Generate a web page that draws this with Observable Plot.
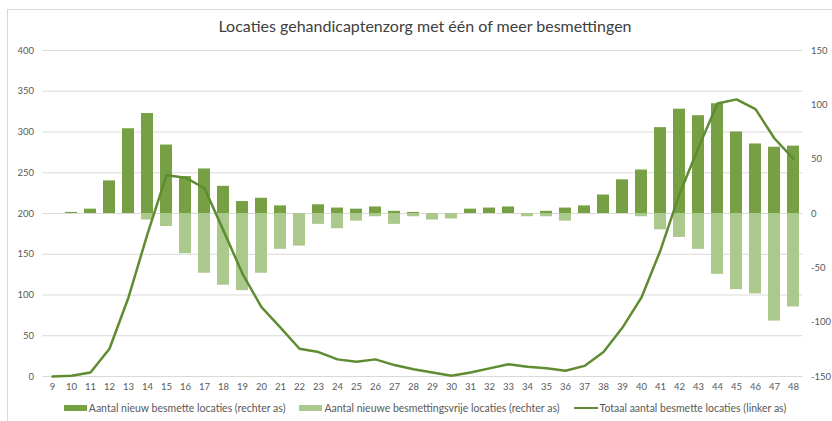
<!DOCTYPE html>
<html><head><meta charset="utf-8">
<script src="https://cdn.jsdelivr.net/npm/d3@7"></script>
<script src="https://cdn.jsdelivr.net/npm/@observablehq/plot@0.6"></script>
<style>
body{margin:0;background:#fff;}
#wrap{position:relative;width:832px;height:421px;overflow:hidden;font-family:Lato,"Open Sans",sans-serif;}
#frame{position:absolute;left:7px;top:9px;right:-2px;bottom:-2px;border-top:1px solid #d9d9d9;border-left:1px solid #d9d9d9;}
#title{position:absolute;top:16px;left:0;width:850px;text-align:center;font-size:16px;color:#404040;}
#chart{position:absolute;left:0;top:0;}
#legend{position:absolute;top:402px;left:0;width:850px;display:flex;justify-content:center;align-items:center;font-size:10.5px;color:#595959;white-space:nowrap;}
.item{display:flex;align-items:center;margin:0 7px;}
.sw{display:inline-block;width:23px;height:6px;margin-right:2px;}
.ln{display:inline-block;width:24px;height:2.5px;margin-right:2px;}
</style></head>
<body>
<div id="wrap">
  <div id="frame"></div>
  <div id="chart"></div>
  <div id="title">Locaties gehandicaptenzorg met één of meer besmettingen</div>
  <div id="legend"></div>
</div>
<script>
const weeks = [9,10,11,12,13,14,15,16,17,18,19,20,21,22,23,24,25,26,27,28,29,30,31,32,33,34,35,36,37,38,39,40,41,42,43,44,45,46,47,48];
const newInfected = [0,1,4,30,78,92,63,34,41,25,11,14,7,0,8,5,4,6,2,1,0,0,4,5,6,0,2,5,7,17,31,40,79,96,90,101,75,64,61,62];
const newFree = [0,0,0,0,0,-6,-12,-37,-55,-66,-71,-55,-33,-30,-10,-14,-7,-3,-10,-3,-6,-5,0,0,0,-3,-3,-7,0,0,0,-3,-15,-22,-33,-56,-70,-74,-99,-86];
const totalInfected = [0,1,5,34,97,175,247,244,231,179,126,85,60,34,30,21,18,21,14,9,5,1,5,10,15,12,10,7,13,30,60,97,155,224,281,335,340,328,292,267];
const leftTicks = [0,50,100,150,200,250,300,350,400];
const rightTicks = [-150,-100,-50,0,50,100,150];
const seriesNames = ["Aantal nieuw besmette locaties (rechter as)","Aantal nieuwe besmettingsvrije locaties (rechter as)","Totaal aantal besmette locaties (linker as)"];
const colors = ["#77a044","#abc98c","#5f8c31"];

// left axis (0..400) mapped onto right axis domain (-150..150)
const toRight = v => v * 0.75 - 150;
const rows = weeks.map((w, i) => ({week: w, inf: newInfected[i], free: newFree[i], total: toRight(totalInfected[i])}));

const chart = Plot.plot({
  width: 832, height: 421,
  marginLeft: 42.5, marginRight: 29.5, marginTop: 50, marginBottom: 45,
  style: {fontFamily: "Lato, 'Open Sans', sans-serif", fontSize: "9.5px", color: "#595959", background: "transparent"},
  x: {type: "band", domain: weeks, paddingInner: 0.35, paddingOuter: 0.175, axis: null, label: null},
  y: {domain: [-150, 150], axis: null, label: null},
  marks: [
    Plot.ruleY(leftTicks.map(toRight), {stroke: "#d9d9d9", strokeWidth: 1}),
    Plot.barY(rows, {x: "week", y1: 0, y2: "inf", fill: colors[0]}),
    Plot.barY(rows, {x: "week", y1: "free", y2: 0, fill: colors[1]}),
    Plot.line(rows, {x: "week", y: "total", stroke: colors[2], strokeWidth: 2.5}),
    Plot.axisX({tickSize: 0, tickPadding: 7, label: null}),
    Plot.axisY(leftTicks.map(toRight), {anchor: "left", tickSize: 0, tickPadding: 9, label: null, tickFormat: d => String(Math.round((d + 150) / 0.75))}),
    Plot.axisY(rightTicks, {anchor: "right", tickSize: 0, tickPadding: 8, label: null, tickFormat: d => String(d)})
  ]
});
document.getElementById("chart").appendChild(chart);

const legend = document.getElementById("legend");
seriesNames.forEach((name, i) => {
  const item = document.createElement("span");
  item.className = "item";
  const sw = document.createElement("span");
  sw.className = i < 2 ? "sw" : "ln";
  sw.style.background = colors[i];
  item.appendChild(sw);
  item.appendChild(document.createTextNode(name));
  legend.appendChild(item);
});
</script>
</body></html>
